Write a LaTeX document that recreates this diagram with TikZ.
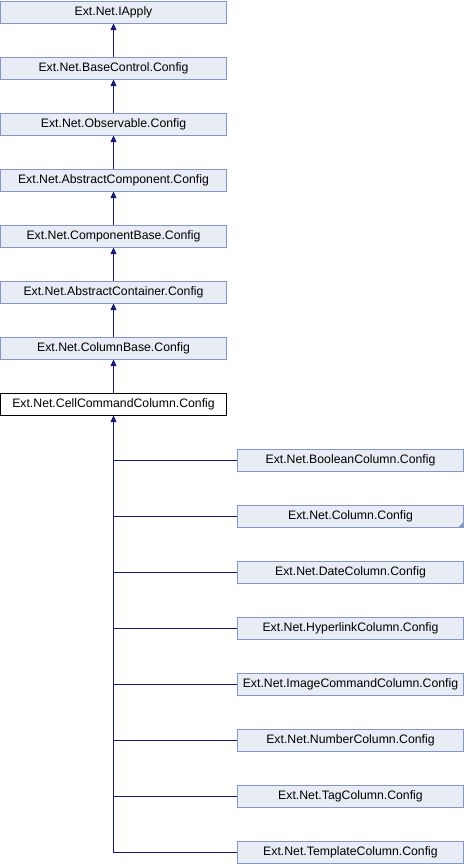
\documentclass[tikz,border=0pt]{standalone}
\usepackage{fontspec}
\setmainfont{Liberation Sans}
\usetikzlibrary{arrows.meta}
\definecolor{boxfill}{HTML}{E8ECF5}
\definecolor{boxline}{HTML}{8497C8}
\definecolor{linkblue}{HTML}{191970}
\begin{document}
\begin{tikzpicture}[x=0.75pt,y=-0.75pt,
	every node/.style={rectangle,draw=boxline,fill=boxfill,line width=0.75pt,
		minimum width=169.5pt,minimum height=16.5pt,inner sep=0pt,font=\fontsize{9.2pt}{10pt}\selectfont},
	this/.style={draw=black,fill=white},
	link/.style={linkblue,line width=0.75pt},
	inherit/.style={link,{Triangle[length=5pt,width=4.5pt]}-}]
\useasboundingbox[fill=white] (0,0) rectangle (464,864);
% base classes
\node (iapply) at (113.5,12) {Ext.Net.IApply};
\node (basecontrol) at (113.5,68) {Ext.Net.BaseControl.Config};
\node (observable) at (113.5,124) {Ext.Net.Observable.Config};
\node (abstractcomponent) at (113.5,180) {Ext.Net.AbstractComponent.Config};
\node (componentbase) at (113.5,236) {Ext.Net.ComponentBase.Config};
\node (abstractcontainer) at (113.5,292) {Ext.Net.AbstractContainer.Config};
\node (columnbase) at (113.5,348) {Ext.Net.ColumnBase.Config};
\node[this] (cellcommand) at (113.5,404) {Ext.Net.CellCommandColumn.Config};
% derived classes
\node (boolean) at (350.5,460) {Ext.Net.BooleanColumn.Config};
\node (column) at (350.5,516) {Ext.Net.Column.Config};
\node (date) at (350.5,572) {Ext.Net.DateColumn.Config};
\node (hyperlink) at (350.5,628) {Ext.Net.HyperlinkColumn.Config};
\node (imagecommand) at (350.5,684) {Ext.Net.ImageCommandColumn.Config};
\node (number) at (350.5,740) {Ext.Net.NumberColumn.Config};
\node (tag) at (350.5,796) {Ext.Net.TagColumn.Config};
\node (template) at (350.5,852) {Ext.Net.TemplateColumn.Config};
\fill[boxline] (column.south east) -- ++(-6,0) -- ++(6,-6) -- cycle;
% inheritance chain
\draw[inherit] (iapply.south) -- (basecontrol.north);
\draw[inherit] (basecontrol.south) -- (observable.north);
\draw[inherit] (observable.south) -- (abstractcomponent.north);
\draw[inherit] (abstractcomponent.south) -- (componentbase.north);
\draw[inherit] (componentbase.south) -- (abstractcontainer.north);
\draw[inherit] (abstractcontainer.south) -- (columnbase.north);
\draw[inherit] (columnbase.south) -- (cellcommand.north);
\coordinate (trunkend) at (cellcommand.south |- template.west);
\draw[inherit] (cellcommand.south) -- (trunkend) -- (template.west);
\draw[link] (cellcommand.south |- boolean.west) -- (boolean.west);
\draw[link] (cellcommand.south |- column.west) -- (column.west);
\draw[link] (cellcommand.south |- date.west) -- (date.west);
\draw[link] (cellcommand.south |- hyperlink.west) -- (hyperlink.west);
\draw[link] (cellcommand.south |- imagecommand.west) -- (imagecommand.west);
\draw[link] (cellcommand.south |- number.west) -- (number.west);
\draw[link] (cellcommand.south |- tag.west) -- (tag.west);
\end{tikzpicture}
\end{document}
